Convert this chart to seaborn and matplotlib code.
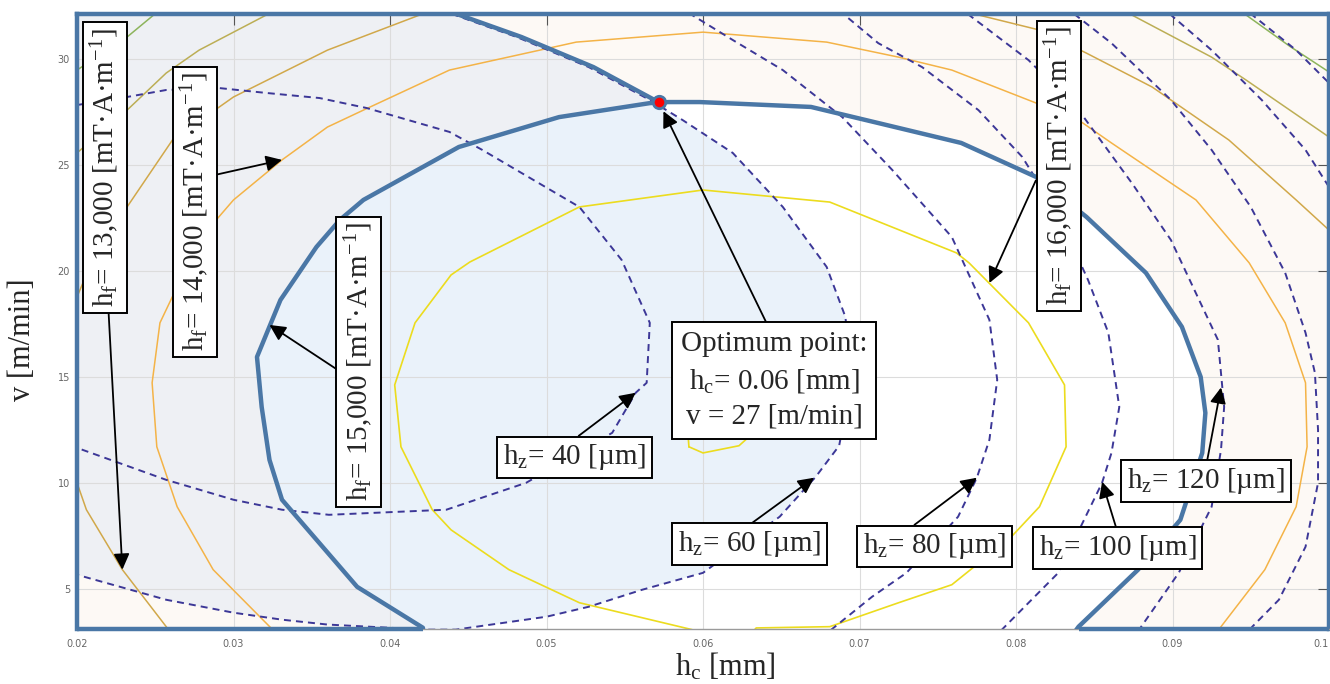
import math
import numpy as np
import matplotlib
matplotlib.use("Agg")
import matplotlib.pyplot as plt
from matplotlib.patches import Polygon
import seaborn as sns

# ---------------------------------------------------------------
# Contour polylines: (hc [mm], v [m/min]) pairs
# ---------------------------------------------------------------
# h_f contours [mT·A·m^-1]
hf_11000_a = [(0.0256, 32.55), (0.0249, 32.08), (0.0232, 31.04), (0.0200, 29.48), (0.0192, 29.10)]
hf_11000_b = [(0.0937, 32.55), (0.0947, 32.08), (0.0975, 30.60), (0.1000, 29.39), (0.1009, 28.95)]

hf_12000_a = [(0.0330, 32.40), (0.0321, 32.08), (0.0278, 30.42), (0.0257, 29.34),
              (0.0232, 27.59), (0.0200, 25.57), (0.0192, 25.10)]
hf_12000_b = [(0.0862, 32.40), (0.0874, 32.08), (0.0925, 30.09), (0.0947, 29.01),
              (0.1000, 26.32), (0.1009, 25.85)]

hf_13000_a = [(0.0425, 32.40), (0.0419, 32.08), (0.0360, 30.42), (0.0300, 28.21), (0.0261, 26.18),
              (0.0232, 23.02), (0.0210, 20.52), (0.0200, 18.77), (0.0197, 17.90)]
hf_13000_b = [(0.0196, 10.60), (0.0200, 10.00), (0.0206, 8.73), (0.0229, 5.90),
              (0.0257, 3.21), (0.0263, 2.60)]
hf_13000_c = [(0.0773, 32.40), (0.0776, 32.08), (0.0815, 31.37), (0.0845, 30.28), (0.0887, 28.68),
              (0.0936, 26.18), (0.0979, 23.35), (0.1000, 21.93), (0.1009, 21.20)]

hf_14000 = [(0.0330, 2.60), (0.0325, 3.07), (0.0287, 5.90), (0.0264, 8.87), (0.0251, 11.70),
            (0.0248, 14.72), (0.0253, 17.55), (0.0263, 19.10), (0.0275, 20.99), (0.0289, 22.41),
            (0.0300, 23.35), (0.0331, 25.24), (0.0360, 26.79), (0.0383, 27.59), (0.0438, 29.48),
            (0.0519, 30.80), (0.0600, 31.27), (0.0679, 30.80), (0.0725, 30.09), (0.0759, 29.48),
            (0.0813, 27.92), (0.0840, 27.12), (0.0861, 26.04), (0.0915, 23.35), (0.0949, 20.38),
            (0.0972, 17.55), (0.0985, 14.72), (0.0986, 11.70), (0.0979, 8.87), (0.0959, 5.90),
            (0.0931, 3.21), (0.0926, 2.60)]

hf_15000 = [(0.0422, 2.60), (0.0421, 3.16), (0.0379, 5.09), (0.0331, 9.20), (0.0323, 11.08),
            (0.0318, 13.58), (0.0315, 15.94), (0.0330, 18.63), (0.0353, 21.13), (0.0368, 22.41),
            (0.0383, 23.35), (0.0444, 25.85), (0.0508, 27.26), (0.0566, 27.92), (0.0578, 27.97),
            (0.0598, 27.97), (0.0669, 27.74), (0.0712, 26.98), (0.0765, 26.04), (0.0813, 24.43),
            (0.0845, 22.55), (0.0883, 19.91), (0.0906, 17.36), (0.0918, 15.00), (0.0921, 13.30),
            (0.0919, 11.41), (0.0905, 8.25), (0.0878, 5.90), (0.0840, 3.21), (0.0834, 2.60)]

hf_16000 = [(0.0601, 2.50), (0.0593, 3.07), (0.0521, 4.34), (0.0476, 5.90), (0.0439, 7.78),
            (0.0427, 8.73), (0.0407, 11.70), (0.0403, 14.62), (0.0416, 17.55), (0.0439, 19.81),
            (0.0451, 20.42), (0.0521, 23.02), (0.0600, 23.82), (0.0681, 23.25), (0.0762, 20.85),
            (0.0770, 20.38), (0.0808, 17.55), (0.0831, 14.62), (0.0832, 11.70), (0.0815, 8.87),
            (0.0797, 7.45), (0.0759, 5.19), (0.0725, 4.34), (0.0681, 3.21), (0.0634, 3.15),
            (0.0626, 2.50)]

hf_17000 = [(0.0591, 11.70), (0.0600, 11.41), (0.0623, 11.75), (0.0642, 13.00), (0.0636, 15.30),
            (0.0601, 16.00), (0.0591, 14.90), (0.0590, 12.70), (0.0591, 11.70)]

# h_z contours [µm]
hz_40 = [(0.0192, 27.78), (0.0200, 27.83), (0.0232, 28.21), (0.0257, 28.54), (0.0291, 28.63),
         (0.0321, 28.40), (0.0355, 28.16), (0.0385, 27.69), (0.0438, 26.56), (0.0459, 25.71),
         (0.0521, 23.02), (0.0548, 20.52), (0.0566, 17.55), (0.0564, 14.72), (0.0557, 14.25),
         (0.0542, 12.36), (0.0487, 10.00), (0.0436, 8.73), (0.0361, 8.49), (0.0331, 8.73),
         (0.0300, 9.20), (0.0257, 10.14), (0.0200, 11.65), (0.0192, 11.89)]

hz_60 = [(0.0425, 32.55), (0.0438, 32.17), (0.0481, 31.04), (0.0527, 29.62), (0.0566, 28.07),
         (0.0587, 27.12), (0.0619, 25.57), (0.0651, 23.02), (0.0679, 20.19), (0.0691, 17.83),
         (0.0695, 14.86), (0.0687, 11.75), (0.0672, 10.28), (0.0649, 8.40), (0.0600, 5.75),
         (0.0561, 4.95), (0.0527, 4.15), (0.0500, 3.68), (0.0442, 3.07), (0.0423, 3.07),
         (0.0360, 3.31), (0.0331, 3.54), (0.0300, 3.87), (0.0257, 4.48), (0.0200, 5.66),
         (0.0192, 5.80)]

hz_80 = [(0.0585, 32.55), (0.0591, 32.17), (0.0619, 30.90), (0.0651, 29.48), (0.0689, 27.26),
         (0.0721, 24.76), (0.0759, 21.60), (0.0783, 17.69), (0.0788, 14.86), (0.0783, 12.03),
         (0.0775, 10.24), (0.0763, 8.40), (0.0730, 5.75), (0.0708, 4.62), (0.0682, 3.07),
         (0.0674, 2.60)]

hz_100 = [(0.0680, 32.55), (0.0689, 32.17), (0.0712, 30.75), (0.0740, 29.62), (0.0776, 27.59),
          (0.0804, 25.38), (0.0827, 22.64), (0.0846, 19.58), (0.0859, 17.08), (0.0866, 13.58),
          (0.0861, 11.41), (0.0855, 10.00), (0.0827, 5.75), (0.0791, 3.07), (0.0786, 2.60)]

hz_120 = [(0.0764, 32.55), (0.0770, 32.08), (0.0808, 29.95), (0.0840, 27.59), (0.0874, 24.15),
          (0.0899, 21.46), (0.0917, 18.63), (0.0929, 16.75), (0.0933, 13.58), (0.0931, 11.56),
          (0.0925, 8.87), (0.0904, 5.75), (0.0880, 3.21), (0.0875, 2.60)]

hz_140 = [(0.0832, 32.55), (0.0838, 32.08), (0.0861, 30.75), (0.0899, 28.07), (0.0925, 25.71),
          (0.0950, 23.02), (0.0972, 19.91), (0.0985, 17.08), (0.0991, 15.19), (0.0993, 12.50),
          (0.0993, 10.00), (0.0985, 6.98), (0.0968, 4.48), (0.0951, 3.21), (0.0945, 2.60)]

hz_160 = [(0.0893, 32.55), (0.0899, 32.08), (0.0925, 30.42), (0.0957, 28.07), (0.0985, 25.71),
          (0.1000, 23.96), (0.1009, 22.90)]

hz_180 = [(0.0944, 32.55), (0.0951, 32.08), (0.0979, 30.42), (0.1000, 28.87), (0.1009, 28.30)]

# optimum point
opt_hc = 0.0572
opt_v = 27.95

# axis ticks
x_ticks = [0.02, 0.03, 0.04, 0.05, 0.06, 0.07, 0.08, 0.09, 0.10]
x_tick_labels = ["0.02", "0.03", "0.04", "0.05", "0.06", "0.07", "0.08", "0.09", "0.1"]
y_ticks = [5, 10, 15, 20, 25, 30]
y_tick_labels = ["5", "10", "15", "20", "25", "30"]

# ---------------------------------------------------------------
# Styling
# ---------------------------------------------------------------
sns.set_style("white")
plt.rcParams["font.family"] = ["DejaVu Sans"]
plt.rcParams["mathtext.fontset"] = "custom"
plt.rcParams["mathtext.rm"] = "Liberation Serif"
plt.rcParams["mathtext.it"] = "Liberation Serif:italic"
plt.rcParams["mathtext.bf"] = "Liberation Serif:bold"
plt.rcParams["mathtext.sf"] = "Liberation Serif"

SERIF = "Liberation Serif"
FS = 21

STEEL = "#4a77a6"
DASH = "#3c3797"
C_11 = "#8db45c"
C_12 = "#bcae55"
C_13 = "#d1a84a"
C_14 = "#f4b347"
C_15 = "#f3c73a"
C_16 = "#ecdc1e"
GRAY_FILL = "#eef0f4"
BLUE_FILL = "#eaf2fa"
BEIGE_FILL = "#fdf9f5"

xlo, xhi = 0.02, 0.10
ylo, yhi = 3.1, 32.15

fig = plt.figure(figsize=(13.3, 6.84), dpi=100)
ax = fig.add_axes([77 / 1330, 1 - 629 / 684, 1252 / 1330, 615.5 / 684])
ax.set_facecolor(BEIGE_FILL)

# ---- shaded regions ----
hz60_arr = np.asarray(hz_60)
low_region = np.vstack([hz60_arr,
                        [[0.018, hz60_arr[-1, 1]], [0.018, 33.5], [hz60_arr[0, 0], 33.5]]])
ax.add_patch(Polygon(low_region, closed=True, facecolor=GRAY_FILL, edgecolor="none", zorder=0.1))
loop_patch = Polygon(np.asarray(hf_15000), closed=True, facecolor="white",
                     edgecolor="none", zorder=0.2)
ax.add_patch(loop_patch)
inner = Polygon(low_region, closed=True, facecolor=BLUE_FILL, edgecolor="none", zorder=0.3)
ax.add_patch(inner)
inner.set_clip_path(loop_patch)


def draw(curve, color, lw, ls="-", z=2.0):
    arr = np.asarray(curve)
    sns.lineplot(x=arr[:, 0], y=arr[:, 1], sort=False, estimator=None, color=color,
                 linewidth=lw, linestyle=ls, ax=ax, legend=False, zorder=z)


# ---- h_f contours ----
for c in (hf_11000_a, hf_11000_b):
    draw(c, C_11, 1.1)
for c in (hf_12000_a, hf_12000_b):
    draw(c, C_12, 1.1)
for c in (hf_13000_a, hf_13000_b, hf_13000_c):
    draw(c, C_13, 1.1)
draw(hf_14000, C_14, 1.1)
draw(hf_15000, C_15, 1.1)
draw(hf_16000, C_16, 1.2)
draw(hf_17000, C_16, 1.2)

# ---- h_z contours ----
dash = (0, (3.6, 2.6))
for c in (hz_40, hz_60, hz_80, hz_100, hz_120, hz_140, hz_160, hz_180):
    draw(c, DASH, 1.4, ls=dash, z=2.2)

# ---- feasible-region boundary ----
draw(hf_15000, STEEL, 3.2, z=3)
diag = np.vstack([hz60_arr[:5], [[opt_hc, opt_v]]])
draw(diag + np.array([0.0003, 0.0]), STEEL, 3.2, z=3)
ax.plot([xlo, hf_15000[1][0]], [ylo, ylo], color=STEEL, lw=3.2, clip_on=False, zorder=3,
        solid_capstyle="butt")
ax.plot([hf_15000[-2][0], xhi], [ylo, ylo], color=STEEL, lw=3.2, clip_on=False, zorder=3,
        solid_capstyle="butt")

sns.scatterplot(x=[opt_hc], y=[opt_v], s=80, color="red", edgecolor=STEEL, linewidth=2,
                ax=ax, zorder=5, legend=False)

# ---- axes ----
ax.set_xlim(xlo, xhi)
ax.set_ylim(ylo, yhi)
ax.set_xticks(x_ticks)
ax.set_xticklabels(x_tick_labels)
ax.get_xticklabels()[-1].set_horizontalalignment("right")
ax.set_yticks(y_ticks)
ax.set_yticklabels(y_tick_labels)
ax.set_xlabel("")
ax.set_ylabel("")
ax.set_axisbelow(True)
ax.grid(True, color="#dcdcdc", linewidth=0.8)
ax.tick_params(which="both", direction="in", top=True, right=True, length=8, width=0.8,
               color="#555555", labelsize=7, labelcolor="#666666")
ax.tick_params(axis="x", pad=7)
ax.tick_params(axis="y", pad=5)
for side in ("left", "top", "right"):
    ax.spines[side].set_color(STEEL)
    ax.spines[side].set_linewidth(3.2)
ax.spines["bottom"].set_color("#9a9a9a")
ax.spines["bottom"].set_linewidth(1.0)

fig.text(23 / 1330, 1 - 340 / 684, "v [m/min]", rotation=90, ha="center", va="center",
         fontsize=22, family=SERIF)
fig.text(725 / 1330, 2 / 684, r"$\mathrm{h_c}$ [mm]", ha="center", va="bottom",
         fontsize=22, family=SERIF)

# ---- annotations ----
box = dict(boxstyle="square,pad=0.2", fc="white", ec="black", lw=1.4)


def label(text, xy, xytext, rot=0, relpos=(0.5, 0.5), shrinkB=0):
    ax.annotate(text, xy=xy, xytext=xytext, textcoords="data", ha="center", va="center",
                rotation=rot, fontsize=FS, family=SERIF, bbox=box, zorder=6,
                arrowprops=dict(arrowstyle="-|>", color="black", lw=1.3, mutation_scale=24,
                                shrinkA=0, shrinkB=shrinkB, relpos=relpos))


unit_f = r" [mT·A·m$^{-1}$]"
label(r"$\mathrm{h_f}$= 13,000" + unit_f, (0.0229, 5.90), (0.02179, 24.88), rot=90,
      relpos=(0.6, 0.0))
label(r"$\mathrm{h_f}$= 14,000" + unit_f, (0.0331, 25.24), (0.02753, 22.78), rot=90,
      relpos=(1.0, 0.63))
label(r"$\mathrm{h_f}$= 15,000" + unit_f, (0.0323, 17.45), (0.0380, 15.71), rot=90,
      relpos=(0.0, 0.46))
label(r"$\mathrm{h_f}$= 16,000" + unit_f, (0.0783, 19.43), (0.08273, 24.95), rot=90,
      relpos=(0.0, 0.5))

label(r"$\mathrm{h_z}$= 40 [µm]", (0.0557, 14.25), (0.05178, 11.20), relpos=(0.47, 1.0))
label(r"$\mathrm{h_z}$= 60 [µm]", (0.0671, 10.24), (0.06295, 7.10), relpos=(0.46, 1.0))
label(r"$\mathrm{h_z}$= 80 [µm]", (0.0775, 10.24), (0.07479, 7.00), relpos=(0.3, 1.0))
label(r"$\mathrm{h_z}$= 100 [µm]", (0.0855, 10.05), (0.0865, 6.93), relpos=(0.5, 1.0))
label(r"$\mathrm{h_z}$= 120 [µm]", (0.0931, 14.50), (0.09215, 10.09), relpos=(0.5, 1.0))

opt_text = ("Optimum point:\n" + r"$\mathrm{h_c}$= " + f"{opt_hc:.2f} [mm]\n"
            + f"v = {math.floor(opt_v)} [m/min]")
ax.annotate(opt_text, xy=(opt_hc, opt_v), xytext=(0.06455, 14.83), textcoords="data",
            ha="center", va="center", multialignment="center", linespacing=1.45,
            fontsize=FS, family=SERIF, zorder=6,
            bbox=dict(boxstyle="square,pad=0.3", fc="white", ec="black", lw=1.4),
            arrowprops=dict(arrowstyle="-|>", color="black", lw=1.3, mutation_scale=24,
                            shrinkA=0, shrinkB=7, relpos=(0.48, 1.0)))

fig.savefig("out.png", dpi=100)
